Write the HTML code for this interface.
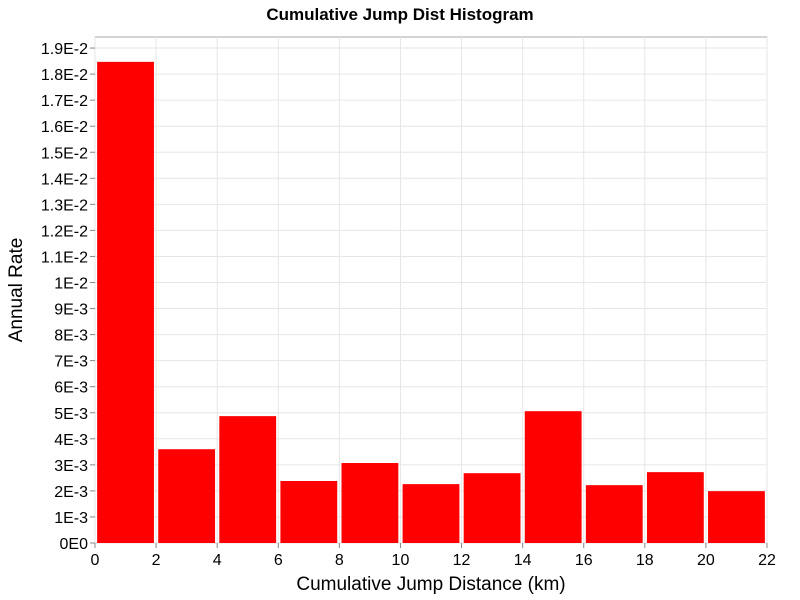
<!DOCTYPE html>
<html><head><meta charset="utf-8"><style>body{margin:0;background:#fff}svg{display:block}</style></head>
<body>
<svg id="chart" width="800" height="600" xmlns="http://www.w3.org/2000/svg" font-family="Liberation Sans, DejaVu Sans, sans-serif">
<text x="400" y="20" text-anchor="middle" font-size="17" font-weight="bold">Cumulative Jump Dist Histogram</text>
<rect x="95" y="37" width="672" height="506" fill="#fff" stroke="#aaa"/>
<g id="grid"></g><g id="bars"></g><g id="axes"></g>
<text x="431" y="590" text-anchor="middle" font-size="19">Cumulative Jump Distance (km)</text>
<text transform="translate(22,290) rotate(-90)" text-anchor="middle" font-size="19">Annual Rate</text>
</svg>
<script>
const binStarts=[0,2,4,6,8,10,12,14,16,18,20];
const rates=[0.01847,0.0036,0.00487,0.00238,0.00307,0.00226,0.00268,0.00506,0.00222,0.00272,0.00199];
const xTicks=[0,2,4,6,8,10,12,14,16,18,20,22];
const yTickLabels=["0E0","1E-3","2E-3","3E-3","4E-3","5E-3","6E-3","7E-3","8E-3","9E-3","1E-2","1.1E-2","1.2E-2","1.3E-2","1.4E-2","1.5E-2","1.6E-2","1.7E-2","1.8E-2","1.9E-2"];
const NS="http://www.w3.org/2000/svg";
const x=v=>95+v*672/22;
const y=v=>543-v*26.05/0.001;
function mk(t,a,p){const e=document.createElementNS(NS,t);for(const k in a)e.setAttribute(k,a[k]);p.appendChild(e);return e;}
const grid=document.getElementById('grid'),bars=document.getElementById('bars'),axes=document.getElementById('axes');
xTicks.forEach(t=>{
 const l=mk('line',{x1:x(t),x2:x(t),y1:37,y2:543,stroke:'#e6e6e6'},grid);
 
 
 const tk=mk('line',{x1:x(t),x2:x(t),y1:543,y2:548,stroke:'#888'},axes);
 
 
 const tx=mk('text',{x:x(t),y:565,'text-anchor':'middle','font-size':16},axes);
 
 
 tx.textContent=t;
});
yTickLabels.forEach((s,i)=>{
 const v=i*0.001;
 const l=mk('line',{x1:95,x2:767,y1:y(v),y2:y(v),stroke:'#e6e6e6'},grid);
 
 
 const tk=mk('line',{x1:90,x2:95,y1:y(v),y2:y(v),stroke:'#888'},axes);
 
 
 const tx=mk('text',{x:88,y:y(v)+6,'text-anchor':'end','font-size':16},axes);
 
 
 tx.textContent=s;
});
binStarts.forEach((b,i)=>{
 const r=mk('rect',{x:x(b+0.07),y:y(rates[i]),width:x(b+1.93)-x(b+0.07),height:543-y(rates[i]),fill:'#ff0000'},bars);
 
 
});
</script>
</body></html>
